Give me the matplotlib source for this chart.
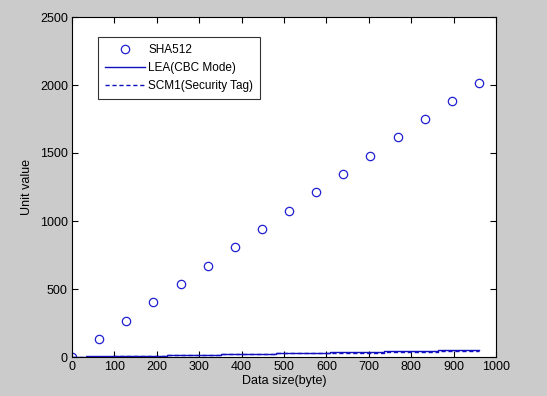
import matplotlib
matplotlib.use('Agg')
import matplotlib.pyplot as plt

# SHA512 points
sha_x = [0, 64, 128, 192, 256, 320, 384, 448, 512, 576, 640, 704, 768, 832, 896, 960]
sha_y = [0, 135, 268, 402, 537, 672, 806, 940, 1075, 1210, 1345, 1478, 1615, 1748, 1882, 2018]

# LEA(CBC Mode) step line
lea_x = [0, 32, 96, 224, 352, 480, 608, 736, 864, 960]
lea_y = [0, 5, 10, 18, 25, 32, 40, 47, 55, 55]

# SCM1(Security Tag) step line
scm_x = [0, 32, 96, 224, 352, 480, 608, 736, 864, 960]
scm_y = [0, 3, 7, 13, 20, 26, 32, 38, 44, 44]

xticks = [0, 100, 200, 300, 400, 500, 600, 700, 800, 900, 1000]
yticks = [0, 500, 1000, 1500, 2000, 2500]

plt.rcParams['font.family'] = ['Liberation Sans', 'DejaVu Sans']
plt.rcParams['font.size'] = 9

fig = plt.figure(figsize=(5.47, 3.96), dpi=100, facecolor='#cbcbcb')
ax = fig.add_axes([72 / 547, 1 - 357 / 396, 424 / 547, 340 / 396])
ax.set_facecolor('white')

ax.plot(sha_x, sha_y, 'o', color='#2020d0', markerfacecolor='none', markersize=6,
        markeredgewidth=0.9, label='SHA512')
ax.plot(lea_x, lea_y, '-', color='#1010c0', linewidth=1, drawstyle='steps-post',
        label='LEA(CBC Mode)')
ax.plot(scm_x, scm_y, color='#1010c0', linewidth=1, drawstyle='steps-post',
        dashes=(3, 2), label='SCM1(Security Tag)')

ax.set_xlim(0, 1000)
ax.set_ylim(0, 2500)
ax.set_xticks(xticks)
ax.set_yticks(yticks)
ax.tick_params(direction='in', top=True, right=True, length=4, labelsize=9, pad=3)
for s in ax.spines.values():
    s.set_linewidth(0.8)

ax.set_xlabel('Data size(byte)', fontsize=9, labelpad=1)
ax.set_ylabel('Unit value', fontsize=9, labelpad=5)

leg = ax.legend(loc='upper left', bbox_to_anchor=(26 / 424, 0.941), borderaxespad=0,
                fontsize=8.5, frameon=True, fancybox=False, edgecolor='black',
                handlelength=3.4, handletextpad=0.25, borderpad=0.6, labelspacing=0.5)
leg.get_frame().set_linewidth(0.8)

fig.savefig('out.png', dpi=100, facecolor=fig.get_facecolor())
